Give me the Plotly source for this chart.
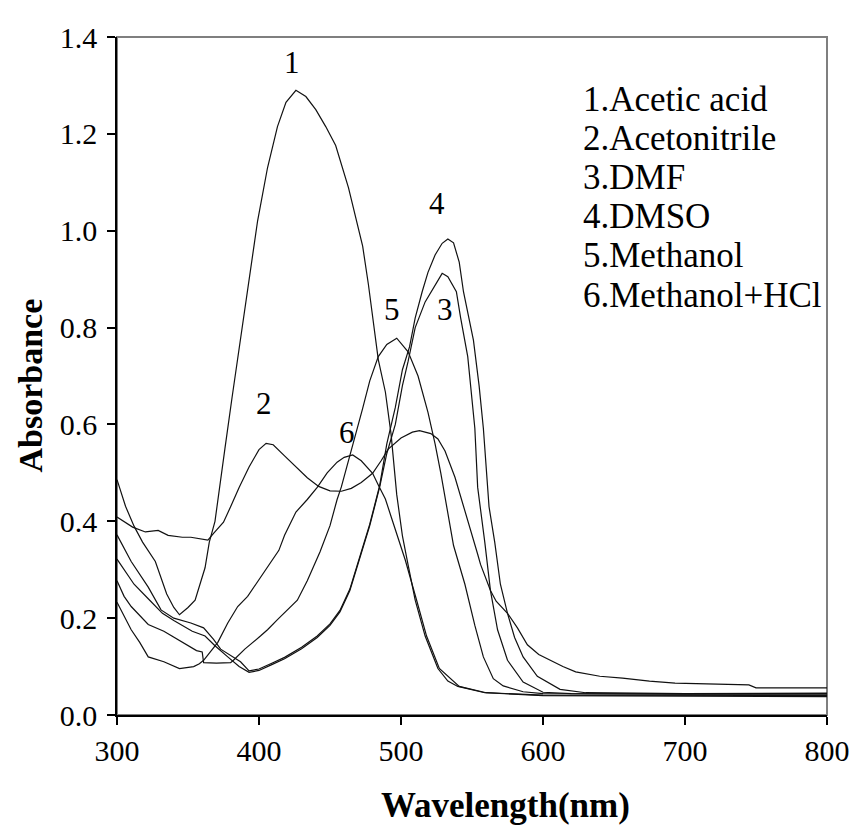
import plotly.graph_objects as go

# ---- data ----
wl1 = [300,306,312,318,327,335,340,344,350,355,362,365,369,372,376,381,385,389,394,399,
       406,413,419,426,433,440,447,454,463,468,473,477,481,484,489,493,497,501,505,510,
       517,526,533,540,559,600,700,800]
ab1 = [0.486,0.431,0.39,0.357,0.317,0.250,0.222,0.207,0.222,0.237,0.304,0.357,0.40,0.46,0.55,0.655,0.735,0.815,0.92,1.02,
       1.13,1.215,1.265,1.29,1.277,1.25,1.215,1.176,1.089,1.03,0.968,0.89,0.807,0.734,0.667,0.58,0.455,0.37,0.31,0.237,
       0.163,0.096,0.07,0.059,0.046,0.040,0.039,0.038]

wl2 = [300,305,311,320,329,336,346,352,358,364,368,375,380,386,393,400,405,410,418,426,
       434,442,450,458,465,472,480,486,491,500,508,513,521,526,531,538,547,554,556,563,
       567,575,582,589,597,605,614,623,640,656,675,693,720,745,750,800]
ab2 = [0.409,0.40,0.388,0.378,0.381,0.371,0.367,0.367,0.364,0.361,0.375,0.398,0.43,0.47,0.512,0.548,0.561,0.558,0.535,0.513,
       0.49,0.472,0.463,0.462,0.468,0.48,0.499,0.525,0.549,0.572,0.584,0.587,0.581,0.57,0.545,0.491,0.404,0.332,0.311,0.257,
       0.235,0.210,0.18,0.145,0.125,0.113,0.100,0.089,0.08,0.076,0.07,0.066,0.064,0.062,0.056,0.056]

wl3 = [300,305,312,322,332,340,353,362,369,378,386,393,400,409,418,430,441,450,457,464,
       471,478,485,490,496,501,505,510,517,524,529,533,539,542,547,552,554,559,563,568,
       575,586,600,620,700,800]
ab3 = [0.322,0.30,0.27,0.24,0.21,0.195,0.173,0.163,0.143,0.120,0.100,0.088,0.092,0.104,0.116,0.137,0.160,0.185,0.213,0.257,
       0.324,0.391,0.471,0.54,0.60,0.68,0.73,0.80,0.853,0.887,0.912,0.905,0.874,0.82,0.740,0.592,0.47,0.357,0.257,0.176,
       0.113,0.068,0.047,0.044,0.043,0.044]

wl4 = [300,310,322,331,340,352,361,368,373,380,387,393,400,409,418,430,441,450,457,464,
       471,478,485,490,496,501,506,510,515,519,524,529,533,537,541,544,551,555,558,560,
       562,566,570,575,580,586,596,612,630,700,800]
ab4 = [0.372,0.317,0.264,0.217,0.200,0.19,0.18,0.156,0.136,0.123,0.110,0.091,0.095,0.107,0.119,0.140,0.163,0.188,0.216,0.260,
       0.327,0.394,0.474,0.56,0.635,0.713,0.76,0.82,0.875,0.914,0.95,0.974,0.983,0.975,0.935,0.874,0.774,0.68,0.592,0.50,
       0.43,0.357,0.27,0.21,0.16,0.12,0.08,0.053,0.046,0.044,0.045]

wl5 = [300,305,310,316,322,333,345,356,360,361,370,380,382,390,401,406,413,420,427,434,
       443,450,455,458,467,473,478,484,490,497,505,512,519,524,528,532,537,545,552,558,
       565,572,586,600,800]
ab5 = [0.277,0.245,0.224,0.205,0.187,0.173,0.153,0.133,0.13,0.108,0.107,0.108,0.113,0.136,0.163,0.176,0.197,0.217,0.237,0.277,
       0.337,0.391,0.445,0.471,0.566,0.633,0.69,0.74,0.765,0.778,0.75,0.70,0.625,0.56,0.50,0.43,0.35,0.27,0.185,0.12,
       0.075,0.06,0.048,0.044,0.043]

wl6 = [300,305,310,316,322,333,344,354,358,361,367,371,378,385,392,399,407,414,418,426,
       434,441,448,455,460,466,472,480,484,489,493,498,503,511,518,527,541,560,600,800]
ab6 = [0.233,0.205,0.176,0.15,0.120,0.110,0.096,0.10,0.106,0.113,0.136,0.150,0.190,0.224,0.245,0.275,0.31,0.34,0.371,0.419,
       0.445,0.47,0.50,0.522,0.532,0.537,0.525,0.499,0.475,0.446,0.41,0.364,0.32,0.237,0.163,0.096,0.059,0.046,0.041,0.040]

series_wl = [wl1, wl2, wl3, wl4, wl5, wl6]
series_ab = [ab1, ab2, ab3, ab4, ab5, ab6]
legend_labels = ["1.Acetic acid", "2.Acetonitrile", "3.DMF", "4.DMSO", "5.Methanol", "6.Methanol+HCl"]
curve_tags = ["1", "2", "3", "4", "5", "6"]
tag_x = [423, 403.5, 531, 525.5, 494, 462]
tag_y = [1.347, 0.643, 0.838, 1.057, 0.837, 0.584]
x_ticks = [300, 400, 500, 600, 700, 800]
y_ticks = [0.0, 0.2, 0.4, 0.6, 0.8, 1.0, 1.2, 1.4]

FONT = "Liberation Serif, Times New Roman, serif"

fig = go.Figure()
for wl, ab in zip(series_wl, series_ab):
    fig.add_trace(go.Scatter(x=wl, y=ab, mode="lines",
                             line=dict(color="#111111", width=1.2),
                             showlegend=False, hoverinfo="skip"))

annotations = []
for t, tx, ty in zip(curve_tags, tag_x, tag_y):
    annotations.append(dict(x=tx, y=ty, xref="x", yref="y", text=t, showarrow=False,
                            font=dict(family=FONT, size=31, color="black")))

leg_y0 = 1.271
leg_step = 0.0808
for i, lab in enumerate(legend_labels):
    annotations.append(dict(x=627, y=leg_y0 - i * leg_step, xref="x", yref="y", text=lab,
                            showarrow=False, xanchor="left", yanchor="middle",
                            font=dict(family=FONT, size=35, color="black")))

annotations.append(dict(x=-0.1514, y=0.486, xref="paper", yref="paper", text="<b>Absorbance</b>",
                        showarrow=False, textangle=-90, xanchor="left", yanchor="middle",
                        font=dict(family=FONT, size=34, color="black")))
annotations.append(dict(x=0.547, y=-0.134, xref="paper", yref="paper", text="<b>Wavelength(nm)</b>",
                        showarrow=False, xanchor="center", yanchor="middle",
                        font=dict(family=FONT, size=35, color="black")))

# the page body adds an 8 px offset, so the figure is 8 px smaller and margins compensate
fig.update_layout(
    width=854, height=822,
    margin=dict(l=109, r=25, t=14, b=115, pad=0),
    paper_bgcolor="white", plot_bgcolor="white",
    font=dict(family=FONT, size=30, color="black"),
    annotations=annotations,
    shapes=[dict(type="rect", xref="paper", yref="paper", x0=0, x1=1, y0=0, y1=1,
                 line=dict(color="#7f7f7f", width=2), layer="below")],
)
fig.update_xaxes(range=[300, 800], tickvals=x_ticks, ticks="outside", ticklen=8, tickwidth=1.5,
                 tickcolor="black", showline=True, linecolor="black", linewidth=1.5,
                 showgrid=False, zeroline=False, ticklabeloverflow="allow",
                 tickfont=dict(family=FONT, size=30, color="black"))
fig.update_yaxes(range=[0, 1.4], tickvals=y_ticks, tickformat=".1f", ticks="outside", ticklen=8,
                 tickwidth=1.5, tickcolor="black", showline=True, linecolor="black", linewidth=1.5,
                 showgrid=False, zeroline=False, ticklabelstandoff=4, ticklabeloverflow="allow",
                 tickfont=dict(family=FONT, size=30, color="black"))

fig.write_html("out.html")
